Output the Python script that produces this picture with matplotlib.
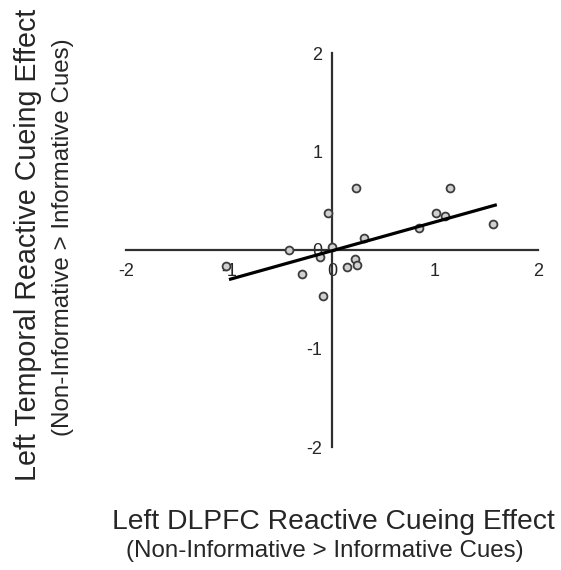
#!/usr/bin/env python3
# Scatter of left DLPFC vs left temporal reactive cueing effect

import matplotlib
matplotlib.use('Agg')
import matplotlib.pyplot as plt

plt.rcParams['font.family'] = ['Liberation Sans', 'DejaVu Sans']

# participant values
dlpfc = [-1.03, -0.42, -0.29, -0.12, -0.09, -0.04, 0.00, 0.15, 0.22,
         0.24, 0.23, 0.31, 0.84, 1.01, 1.10, 1.15, 1.56]
temporal = [-0.16, 0.00, -0.24, -0.07, -0.47, 0.38, 0.03, -0.17, -0.09,
            -0.15, 0.63, 0.12, 0.22, 0.38, 0.35, 0.63, 0.26]

# regression line end points
fit_x = [-1.0, 1.6]
fit_y = [-0.30, 0.46]

ticks = [-2, -1, 0, 1, 2]

text_col = '#262626'
axis_col = '#303030'

fig = plt.figure(figsize=(5.61, 5.70), dpi=100)
ax = fig.add_axes([126 / 561, 1 - 447 / 570, 412 / 561, 394 / 570])

ax.scatter(dlpfc, temporal, s=32, facecolor='#d0d0d0', edgecolor='#3c3c3c',
           linewidth=1.3, zorder=3)
ax.plot(fit_x, fit_y, color='black', linewidth=2.3, solid_capstyle='butt', zorder=4)

ax.set_xlim(-2, 2)
ax.set_ylim(-2, 2)
for side in ['top', 'right']:
    ax.spines[side].set_visible(False)
ax.spines['left'].set_position('zero')
ax.spines['bottom'].set_position('zero')
for side in ['left', 'bottom']:
    ax.spines[side].set_color(axis_col)
    ax.spines[side].set_linewidth(1.6)

ax.set_xticks(ticks)
ax.set_yticks(ticks)
ax.set_xticklabels([str(t) for t in ticks])
ax.set_yticklabels([str(t) for t in ticks])
ax.tick_params(axis='x', length=0, pad=9, labelsize=13, labelcolor=text_col)
ax.tick_params(axis='y', length=0, pad=7, labelsize=13, labelcolor=text_col)

fig.text(333 / 561, 1 - 522 / 570, 'Left DLPFC Reactive Cueing Effect',
         ha='center', va='center', fontsize=20.3, color=text_col)
fig.text(325 / 561, 1 - 551 / 570, '(Non-Informative > Informative Cues)',
         ha='center', va='center', fontsize=17.4, color=text_col)
fig.text(28 / 561, 1 - 245 / 570, 'Left Temporal Reactive Cueing Effect',
         ha='center', va='center', rotation=90, fontsize=20.6, color=text_col)
fig.text(63 / 561, 1 - 237.5 / 570, '(Non-Informative > Informative Cues)',
         ha='center', va='center', rotation=90, fontsize=17.4, color=text_col)

fig.savefig('out.png', dpi=100)
